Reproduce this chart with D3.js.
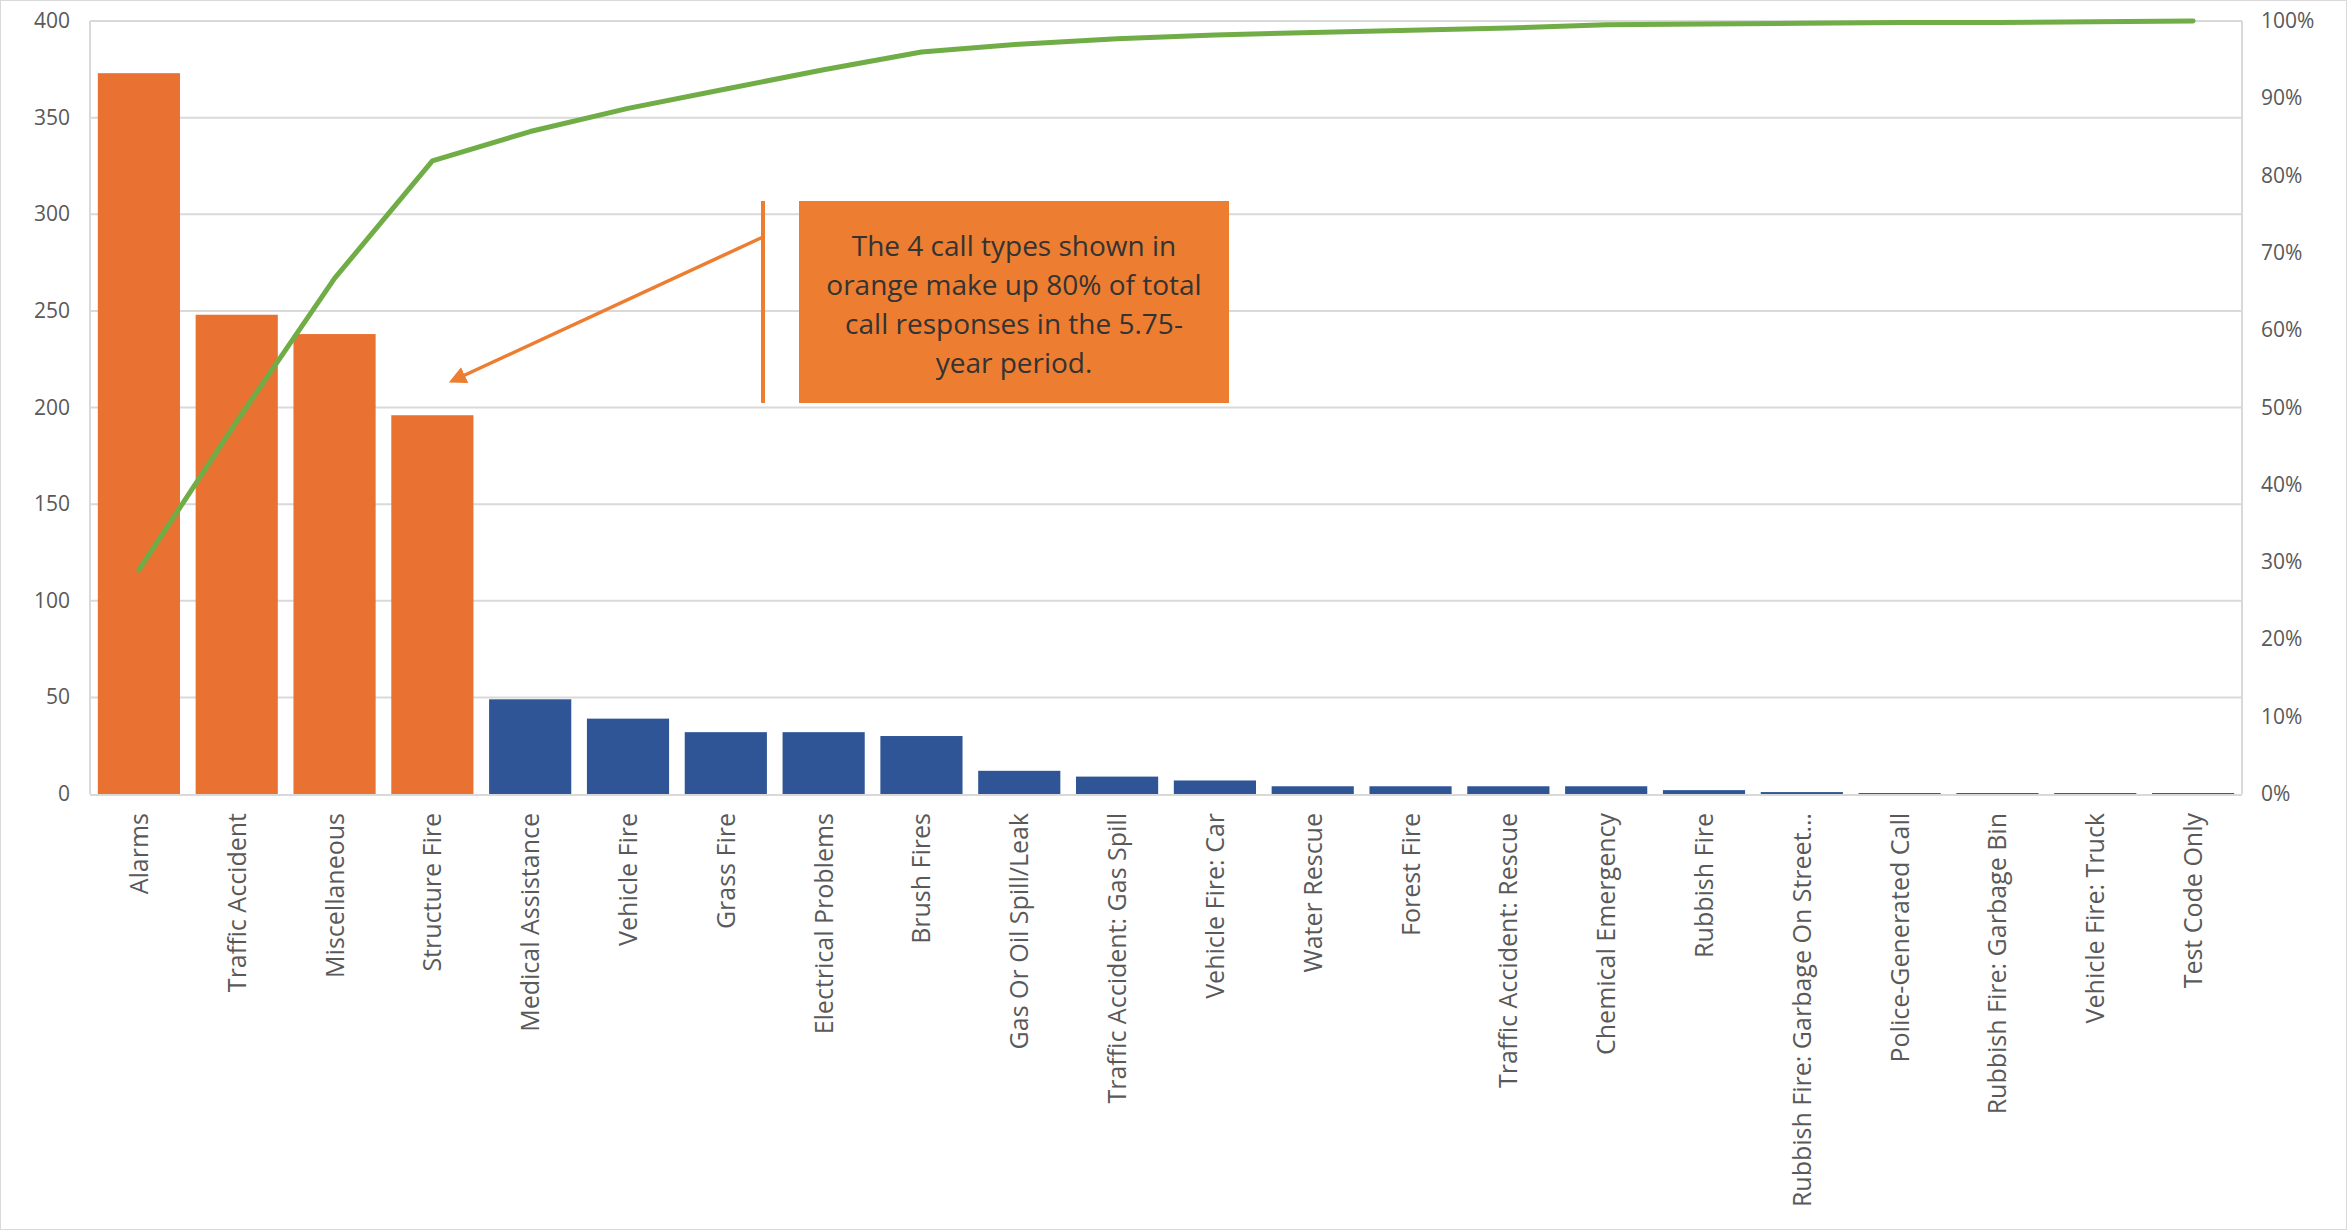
<!DOCTYPE html>
<html>
<head>
<meta charset="utf-8">
<script src="https://cdn.jsdelivr.net/npm/d3@7"></script>
<style>
  html, body { margin: 0; padding: 0; background: #fff; }
  #chart svg { display: block; }
  .lbl { font-family: "Open Sans", "Noto Sans", sans-serif; fill: #595959; }
</style>
</head>
<body>
<div id="chart"></div>
<script>
// Pareto of call types — counts (left axis) and cumulative share (right axis)
const categories = [
  'Alarms', 'Traffic Accident', 'Miscellaneous', 'Structure Fire', 'Medical Assistance',
  'Vehicle Fire', 'Grass Fire', 'Electrical Problems', 'Brush Fires', 'Gas Or Oil Spill/Leak',
  'Traffic Accident: Gas Spill', 'Vehicle Fire: Car', 'Water Rescue', 'Forest Fire',
  'Traffic Accident: Rescue', 'Chemical Emergency', 'Rubbish Fire',
  'Rubbish Fire: Garbage On Street…', 'Police-Generated Call', 'Rubbish Fire: Garbage Bin',
  'Vehicle Fire: Truck', 'Test Code Only'
];
const counts = [373, 248, 238, 196, 49, 39, 32, 32, 30, 12, 9, 7, 4, 4, 4, 4, 2, 1, 0.5, 0.5, 0.5, 0.5];
const cumulativePct = [29.0, 48.2, 66.7, 81.9, 85.7, 88.7, 91.2, 93.7, 96.0, 97.0, 97.7, 98.2,
  98.5, 98.8, 99.1, 99.5, 99.6, 99.7, 99.8, 99.8, 99.9, 100];
const highlighted = ['Alarms', 'Traffic Accident', 'Miscellaneous', 'Structure Fire'];
const leftTicks = [0, 50, 100, 150, 200, 250, 300, 350, 400];
const rightTicks = [0, 10, 20, 30, 40, 50, 60, 70, 80, 90, 100];
const noteLines = [
  'The 4 call types shown in',
  'orange make up 80% of total',
  'call responses in the 5.75-',
  'year period.'
];

const W = 2347, H = 1230;
const M = { left: 90, right: 2242, top: 21, bottom: 794 };
const ORANGE = '#E97132', BLUE = '#2F5597', GREEN = '#70AD47', NOTE = '#ED7D31', GRID = '#D9D9D9';

const svg = d3.select('#chart').append('svg')
  .attr('width', W).attr('height', H);

// outer chart border
svg.append('rect')
  .attr('x', 0.5).attr('y', 0.5).attr('width', W - 1).attr('height', H - 1)
  .attr('fill', '#fff').attr('stroke', GRID);

const x = d3.scaleBand().domain(categories).range([M.left, M.right])
  .paddingInner(0.16).paddingOuter(0.08);
const y = d3.scaleLinear().domain([0, 400]).range([M.bottom, M.top]);
const y2 = d3.scaleLinear().domain([0, 100]).range([M.bottom, M.top]);

// gridlines
svg.append('g').selectAll('line').data(leftTicks.filter(d => d > 0)).join('line')
  .attr('x1', M.left).attr('x2', M.right)
  .attr('y1', d => y(d)).attr('y2', d => y(d))
  .attr('stroke', GRID).attr('stroke-width', 2);

// plot side borders
[M.left, M.right].forEach(px => {
  svg.append('line')
    .attr('x1', px).attr('x2', px).attr('y1', M.top).attr('y2', M.bottom)
    .attr('stroke', GRID).attr('stroke-width', 2);
});

// left axis labels
svg.append('g').selectAll('text').data(leftTicks).join('text')
  .attr('class', 'lbl')
  .attr('x', 70).attr('y', d => y(d) + 7)
  .attr('text-anchor', 'end').attr('font-size', 21)
  .text(d => d);

// right axis labels
svg.append('g').selectAll('text').data(rightTicks).join('text')
  .attr('class', 'lbl')
  .attr('x', 2261).attr('y', d => y2(d) + 7)
  .attr('font-size', 21)
  .text(d => d + '%');

// bars
svg.append('g').selectAll('rect').data(categories).join('rect')
  .attr('x', d => x(d))
  .attr('width', x.bandwidth())
  .attr('y', (d, i) => y(counts[i]))
  .attr('height', (d, i) => M.bottom - y(counts[i]))
  .attr('fill', d => highlighted.includes(d) ? ORANGE : BLUE);

// x axis line
svg.append('line')
  .attr('x1', M.left).attr('x2', M.right).attr('y1', M.bottom + 1).attr('y2', M.bottom + 1)
  .attr('stroke', GRID).attr('stroke-width', 2);

// category labels, rotated
svg.append('g').selectAll('text').data(categories).join('text')
  .attr('class', 'lbl')
  .attr('font-size', 25)
  .attr('text-anchor', 'end')
  .attr('transform', d => `translate(${x(d) + x.bandwidth() / 2 + 9},${M.bottom + 19}) rotate(-90)`)
  .text(d => d);

// cumulative line
const line = d3.line()
  .x((d, i) => x(categories[i]) + x.bandwidth() / 2)
  .y(d => y2(d));
svg.append('path')
  .datum(cumulativePct)
  .attr('d', line)
  .attr('fill', 'none')
  .attr('stroke', GREEN).attr('stroke-width', 5)
  .attr('stroke-linecap', 'round').attr('stroke-linejoin', 'round');

// annotation: box, bracket line, arrow
const box = { x: 799, y: 201, w: 430, h: 202 };
svg.append('rect')
  .attr('x', box.x).attr('y', box.y).attr('width', box.w).attr('height', box.h)
  .attr('fill', NOTE);

svg.append('text')
  .attr('font-family', '"Open Sans", "Noto Sans", sans-serif')
  .attr('font-size', 28).attr('fill', '#333')
  .attr('text-anchor', 'middle')
  .selectAll('tspan').data(noteLines).join('tspan')
  .attr('x', box.x + box.w / 2)
  .attr('y', (d, i) => 256 + i * 39)
  .text(d => d);

svg.append('line')
  .attr('x1', 763).attr('x2', 763).attr('y1', box.y).attr('y2', box.y + box.h)
  .attr('stroke', NOTE).attr('stroke-width', 4);

svg.append('defs').append('marker')
  .attr('id', 'arrow').attr('viewBox', '0 0 10 10')
  .attr('refX', 8).attr('refY', 5)
  .attr('markerWidth', 5).attr('markerHeight', 5)
  .attr('orient', 'auto')
  .append('path').attr('d', 'M0,0 L10,5 L0,10 z').attr('fill', NOTE);

svg.append('line')
  .attr('x1', 763).attr('y1', 237).attr('x2', 452).attr('y2', 381)
  .attr('stroke', NOTE).attr('stroke-width', 3.5)
  .attr('marker-end', 'url(#arrow)');
</script>
</body>
</html>
